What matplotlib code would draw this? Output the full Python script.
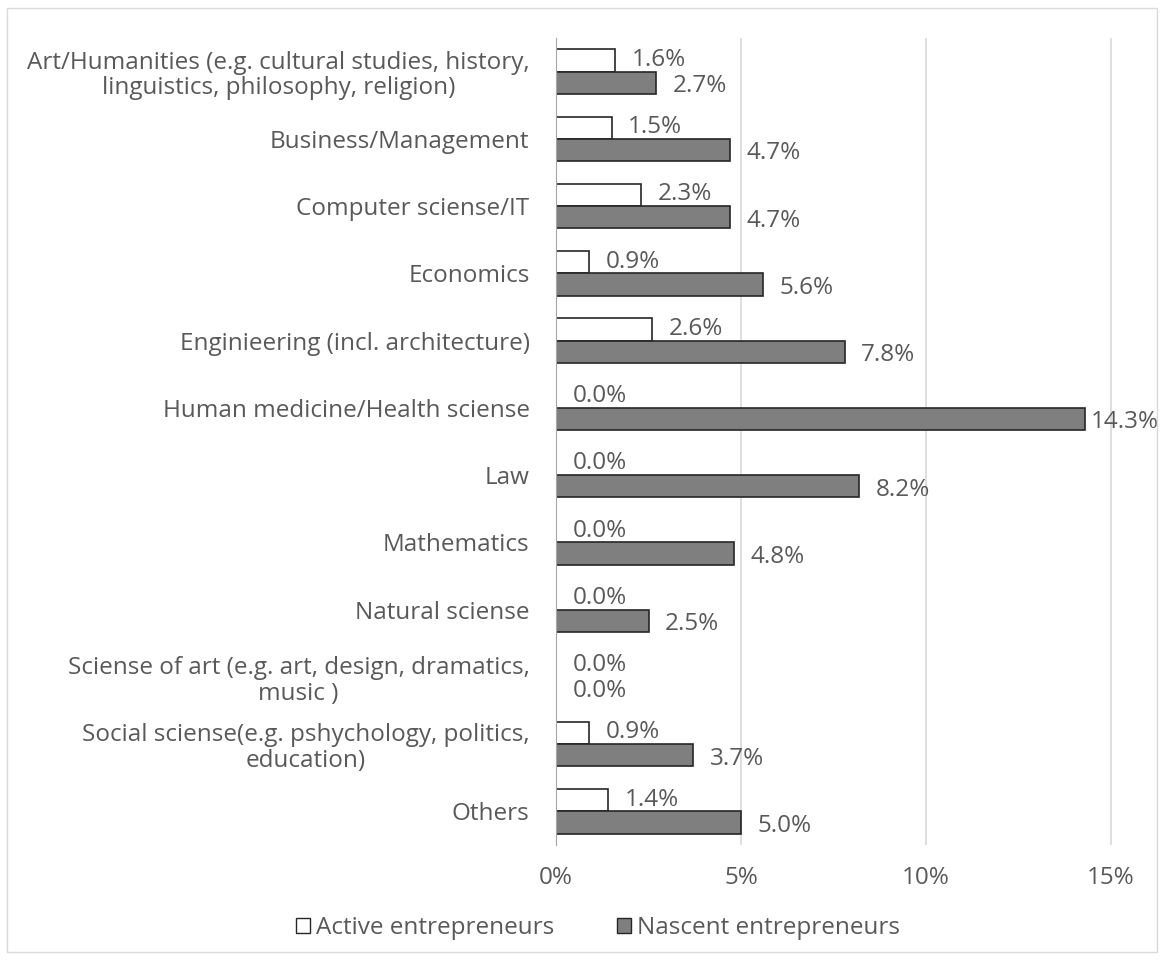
import matplotlib.pyplot as plt
from matplotlib.patches import Rectangle, Patch
from matplotlib.ticker import PercentFormatter

plt.rcParams['font.family'] = ['Open Sans', 'DejaVu Sans']

categories = [
    'Art/Humanities (e.g. cultural studies, history,\nlinguistics, philosophy, religion)',
    'Business/Management',
    'Computer sciense/IT',
    'Economics',
    'Enginieering (incl. architecture)',
    'Human medicine/Health sciense',
    'Law',
    'Mathematics',
    'Natural sciense',
    'Sciense of art (e.g. art, design, dramatics,\nmusic )',
    'Social sciense(e.g. pshychology, politics,\neducation)',
    'Others',
]
active = [1.6, 1.5, 2.3, 0.9, 2.6, 0.0, 0.0, 0.0, 0.0, 0.0, 0.9, 1.4]
nascent = [2.7, 4.7, 4.7, 5.6, 7.8, 14.3, 8.2, 4.8, 2.5, 0.0, 3.7, 5.0]
series_names = ['Active entrepreneurs', 'Nascent entrepreneurs']

TEXT = '#595959'
GRID = '#d9d9d9'
EDGE = '#262626'
DARK_FILL = '#7f7f7f'
FS = 17.5

fig = plt.figure(figsize=(11.64, 9.6), dpi=100)
fig.patches.append(Rectangle((7 / 1164, 8 / 960), 1150 / 1164, 944 / 960,
                             transform=fig.transFigure, fill=False,
                             edgecolor=GRID, linewidth=1))

ax = fig.add_axes([556 / 1164, 115 / 960, 592 / 1164, 807 / 960])

h = 0.33
ypos = list(range(len(categories)))
ax.barh([y - h / 2 for y in ypos], active, height=h, color='white',
        edgecolor=EDGE, linewidth=1.2, zorder=3)
ax.barh([y + h / 2 for y in ypos], nascent, height=h, color=DARK_FILL,
        edgecolor=EDGE, linewidth=1.2, zorder=3)

# value labels sit just right of each bar end
for y, a, n in zip(ypos, active, nascent):
    ax.annotate(f'{a:.1f}%', (a, y - h / 2 - 0.01), xytext=(12, 0),
                textcoords='offset points', va='center', ha='left',
                fontsize=FS, color=TEXT)
    off = 4 if n > 14 else 12
    ax.annotate(f'{n:.1f}%', (n, y + h / 2 + 0.05), xytext=(off, 0),
                textcoords='offset points', va='center', ha='left',
                fontsize=FS, color=TEXT)

ax.set_xlim(0, 16)
ax.set_ylim(len(categories) - 0.5, -0.5)
ax.set_xticks([0, 5, 10, 15])
ax.xaxis.set_major_formatter(PercentFormatter(decimals=0))
ax.set_yticks(ypos)
ax.set_yticklabels(categories, multialignment='center', linespacing=1.1)
ax.tick_params(axis='x', length=0, pad=15, labelsize=FS, labelcolor=TEXT)
ax.tick_params(axis='y', length=0, pad=19, labelsize=FS, labelcolor=TEXT)
ax.grid(axis='x', color=GRID, linewidth=1.2, zorder=0)
for side in ['top', 'right', 'bottom']:
    ax.spines[side].set_visible(False)
ax.spines['left'].set_color('#a6a6a6')
ax.spines['left'].set_zorder(4)

handles = [Patch(facecolor='white', edgecolor=EDGE, linewidth=1),
           Patch(facecolor=DARK_FILL, edgecolor=EDGE, linewidth=1)]
fig.legend(handles, series_names, loc='center', bbox_to_anchor=(598 / 1164, 1 - 928 / 960),
           ncol=2, frameon=False, fontsize=FS, labelcolor=TEXT,
           handlelength=0.55, handleheight=0.55, handletextpad=0.25, columnspacing=2.6)

fig.savefig('out.png', dpi=100)
